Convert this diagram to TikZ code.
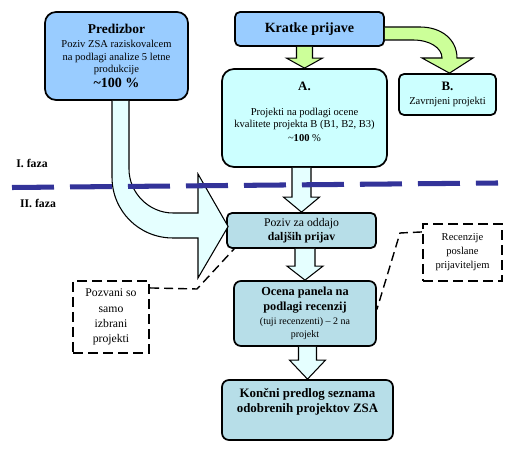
\documentclass[tikz,border=0pt]{standalone}
\usepackage{fontspec}
\setmainfont{Liberation Serif}
\usepackage{tikz}
\usetikzlibrary{calc}

\newlength\px
\setlength\px{0.03cm}
\newcommand{\fs}[2]{\fontsize{#1}{#2}\selectfont}

\definecolor{predblue}{RGB}{153,204,255}
\definecolor{acyan}{RGB}{204,255,255}
\definecolor{phasecol}{RGB}{183,222,232}
\definecolor{greenarrow}{RGB}{204,255,153}
\definecolor{arrowcyan}{RGB}{229,255,255}
\definecolor{fazablue}{RGB}{51,51,153}

% block arrow: from, to, fill, shaft half width, head length
\newcommand{\blockdown}[5]{%
	\draw[blockline, fill=#3] ($(#1.south -| #2.north)+(-#4,0)$) -- ($(#2.north)+(-#4,-#5)$)
		-- ($(#2.north)+(-18,-#5)$) -- (#2.north) -- ($(#2.north)+(18,-#5)$)
		-- ($(#2.north)+(#4,-#5)$) -- ($(#1.south -| #2.north)+(#4,0)$);}

\begin{document}
\begin{tikzpicture}[x=0.03cm,y=-0.03cm]
\tikzstyle{box}=[draw, line width=1.5pt, align=center, inner sep=2pt]
\tikzstyle{dashbox}=[draw, line width=1.8pt, dash pattern=on 10\px off 5\px, align=center, font=\fs{10}{13}]
\tikzstyle{blockline}=[line width=0.9pt, line join=miter]
\tikzstyle{note}=[line width=1.2pt, dash pattern=on 9\px off 5\px]
\tikzstyle{faza}=[draw=fazablue, line width=4.3pt, dash pattern=on 42\px off 16\px]
\useasboundingbox (0,0) rectangle (527,458);

	\node[box, fill=predblue, rounded corners=11\px, minimum width=143\px, minimum height=88\px, font=\fs{9}{10.5}] (predizbor) at (116.5,56)
		{{\fs{11.5}{13}\textbf{Predizbor}}\\[1.5pt] Poziv ZSA raziskovalcem\\ na podlagi analize 5 letne\\ produkcije\\[2pt] {\fs{12}{14}\textbf{\textasciitilde100 \%}}};
	\node[box, fill=predblue, rounded corners=5\px, minimum width=149\px, minimum height=34\px, font=\fs{12}{14}\bfseries] (kratke) at (309.5,29) {Kratke prijave};
	\node[box, fill=acyan, rounded corners=12\px, minimum width=165\px, minimum height=98\px, font=\fs{9}{10.5}] (projekti) at (304.5,118)
		{{\fs{11}{13}\textbf{A.}}\\[11pt] Projekti na podlagi ocene\\ kvalitete projekta B (B1, B2, B3)\\[1.5pt] \textasciitilde\textbf{100} \%\\ \mbox{}};
	\node[box, fill=acyan, rounded corners=5\px, minimum width=97\px, minimum height=41\px, font=\fs{9}{10.5}] (zavrnjeni) at (447.5,94.5)
		{{\fs{11}{13}\textbf{B.}}\\[1.5pt] Zavrnjeni projekti};

	\node[box, fill=phasecol, rounded corners=5\px, minimum width=149\px, minimum height=35\px, font=\fs{10}{12}] (poziv) at (301.5,230.5)
		{Poziv za oddajo\\ \textbf{daljših prijav}};
	\node[box, fill=phasecol, rounded corners=7\px, minimum width=142\px, minimum height=65\px, font=\fs{8.5}{11}] (ocena) at (305,313.5)
		{{\fs{10.5}{12.5}\textbf{Ocena panela na}}\\[1.8pt] {\fs{10.5}{12.5}\textbf{podlagi recenzij}}\\[1pt] (tuji recenzenti) – 2 na\\ projekt};
	\node[box, fill=phasecol, rounded corners=7\px, minimum width=171\px, minimum height=60\px, font=\fs{11}{13}\bfseries] (koncni) at (307.5,410)
		{Končni predlog seznama\\ odobrenih projektov ZSA\\[3pt] \mbox{}};

	\node[dashbox, minimum width=76\px, minimum height=72\px] (pozvani) at (111,317) {Pozvani so\\ samo\\ izbrani\\ projekti};
	\node[dashbox, minimum width=79\px, minimum height=57\px, font=\fs{9}{12}] (recenzije) at (462.5,252.5) {Recenzije\\ poslane\\ prijaviteljem};

	\node[font=\fs{10}{12}\bfseries] (faza1) at (32,163) {I. faza};
	\node[font=\fs{10}{12}\bfseries] (faza2) at (38,203) {II. faza};

	% block arrows
	\blockdown{kratke}{projekti}{greenarrow}{8}{10}
	\blockdown{projekti}{poziv}{arrowcyan}{9.5}{15}
	\blockdown{poziv}{ocena}{arrowcyan}{10}{14}
	\blockdown{ocena}{koncni}{arrowcyan}{9}{19}

	\draw[blockline, fill=greenarrow] ($(kratke.east)+(0,-2)$) -- (420,27) .. controls (442,27) and (457,40) .. (457,58)
		-- (473,58) -- ($(zavrnjeni.north)+(2,0)$) -- (422,58) -- (442,58) .. controls (442,48) and (430,40) .. (413,40) -- ($(kratke.east)+(0,11)$);

	\draw[blockline, fill=arrowcyan] ($(predizbor.south)+(-4.5,0)$) -- (112,177) .. controls (112,211) and (139,238) .. (173,238)
		-- (198,238) -- (198,278) -- ($(poziv.west)+(2,-4)$) -- (198,174) -- (198,213) -- (173,213)
		.. controls (149,213) and (129,193) .. (129,169) -- ($(predizbor.south)+(12.5,0)$);

	% phase line
	\draw[faza] (12,187.5) -- (498,183);

	\draw[note] ($(pozvani.north east)+(0,8)$) -- (197,289) -- ($(poziv.south west)+(8,0)$);
	\draw[note] ($(recenzije.north west)+(0,9)$) -- (400,233) -- ($(ocena.east)+(0,-4)$);
%	\draw[note] (recenzije) -- (ocena);

\end{tikzpicture}
\end{document}
